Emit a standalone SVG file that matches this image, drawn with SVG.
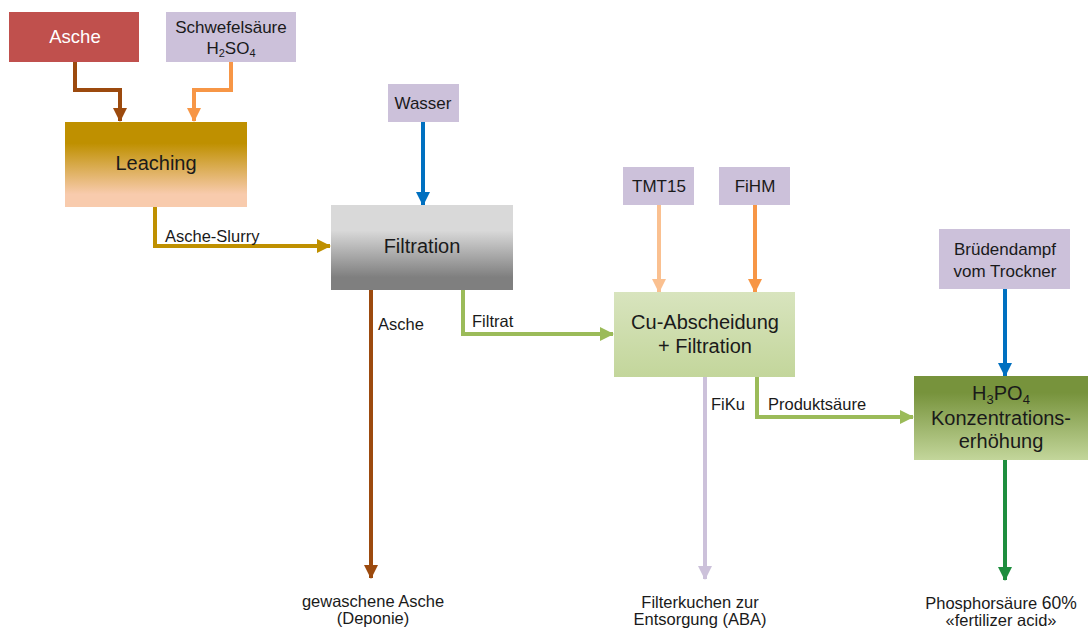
<svg xmlns="http://www.w3.org/2000/svg" width="1089" height="628" viewBox="0 0 1089 628">
<style>
text{font-family:"Liberation Sans",Arial,sans-serif;fill:#1a1a1a;text-anchor:middle}
.big{font-size:20px}
.mid{font-size:17px}
.lbl{font-size:16.5px;text-anchor:start}
.bot{font-size:16.5px}
.c{fill:none;stroke-width:4;stroke-linejoin:miter}
</style>
<defs>
<linearGradient id="gLeach" x1="0" y1="0" x2="0" y2="1"><stop offset="0.25" stop-color="#BF9000"/><stop offset="0.85" stop-color="#F8CBAD"/></linearGradient>
<linearGradient id="gFilt" x1="0" y1="0" x2="0" y2="1"><stop offset="0.3" stop-color="#D9D9D9"/><stop offset="0.85" stop-color="#7F7F7F"/></linearGradient>
<linearGradient id="gCu" x1="0" y1="0" x2="0" y2="1"><stop offset="0" stop-color="#D8E4BE"/><stop offset="1" stop-color="#C3D69B"/></linearGradient>
<linearGradient id="gH3" x1="0" y1="0" x2="0" y2="1"><stop offset="0.2" stop-color="#77933C"/><stop offset="1" stop-color="#C3D69B"/></linearGradient>
<marker id="mBrown" markerUnits="userSpaceOnUse" markerWidth="14" markerHeight="14" refX="13" refY="7" orient="auto"><path d="M0,0 L14,7 L0,14 z" fill="#9C4A0E"/></marker>
<marker id="mOrange" markerUnits="userSpaceOnUse" markerWidth="14" markerHeight="14" refX="13" refY="7" orient="auto"><path d="M0,0 L14,7 L0,14 z" fill="#F79646"/></marker>
<marker id="mLOrange" markerUnits="userSpaceOnUse" markerWidth="14" markerHeight="14" refX="13" refY="7" orient="auto"><path d="M0,0 L14,7 L0,14 z" fill="#FAC090"/></marker>
<marker id="mBlue" markerUnits="userSpaceOnUse" markerWidth="14" markerHeight="14" refX="13" refY="7" orient="auto"><path d="M0,0 L14,7 L0,14 z" fill="#0070C0"/></marker>
<marker id="mGold" markerUnits="userSpaceOnUse" markerWidth="14" markerHeight="14" refX="13" refY="7" orient="auto"><path d="M0,0 L14,7 L0,14 z" fill="#BF9000"/></marker>
<marker id="mGreen" markerUnits="userSpaceOnUse" markerWidth="14" markerHeight="14" refX="13" refY="7" orient="auto"><path d="M0,0 L14,7 L0,14 z" fill="#9BBB59"/></marker>
<marker id="mLilac" markerUnits="userSpaceOnUse" markerWidth="14" markerHeight="14" refX="13" refY="7" orient="auto"><path d="M0,0 L14,7 L0,14 z" fill="#CCC1DA"/></marker>
<marker id="mDGreen" markerUnits="userSpaceOnUse" markerWidth="14" markerHeight="14" refX="13" refY="7" orient="auto"><path d="M0,0 L14,7 L0,14 z" fill="#1E8E3E"/></marker>
</defs>

<g id="connectors">
<path class="c" d="M75,62 V90 H120 V121" stroke="#9C4A0E" marker-end="url(#mBrown)"/>
<path class="c" d="M231,62 V90 H194 V121" stroke="#F79646" marker-end="url(#mOrange)"/>
<path class="c" d="M423,122 V205" stroke="#0070C0" marker-end="url(#mBlue)"/>
<path class="c" d="M155,207 V246 H330" stroke="#BF9000" marker-end="url(#mGold)"/>
<path class="c" d="M371,290 V578" stroke="#9C4A0E" marker-end="url(#mBrown)"/>
<path class="c" d="M463,290 V334 H613" stroke="#9BBB59" marker-end="url(#mGreen)"/>
<path class="c" d="M659,205 V292" stroke="#FAC090" marker-end="url(#mLOrange)"/>
<path class="c" d="M755,205 V292" stroke="#F79646" marker-end="url(#mOrange)"/>
<path class="c" d="M705,377 V579" stroke="#CCC1DA" marker-end="url(#mLilac)"/>
<path class="c" d="M757,377 V417 H913" stroke="#9BBB59" marker-end="url(#mGreen)"/>
<path class="c" d="M1005,289 V376" stroke="#0070C0" marker-end="url(#mBlue)"/>
<path class="c" d="M1005,460 V580" stroke="#1E8E3E" marker-end="url(#mDGreen)"/>
<text class="lbl" x="165" y="242">Asche-Slurry</text>
<text class="lbl" x="378" y="330">Asche</text>
<text class="lbl" x="472" y="327">Filtrat</text>
<text class="lbl" x="711" y="410">FiKu</text>
<text class="lbl" x="768" y="410">Produktsäure</text>
</g>

<g id="asche"><rect x="9" y="12" width="130" height="50" fill="#C0504D"/><text x="75" y="43" class="big" style="fill:#fff;font-size:18.5px">Asche</text></g>
<g id="schwefel"><rect x="166" y="12" width="130" height="50" fill="#CCC1DA"/><text x="231" y="33" class="mid">Schwefelsäure</text><text x="231" y="54" class="mid">H<tspan font-size="11" dy="3">2</tspan><tspan dy="-3">SO</tspan><tspan font-size="11" dy="3">4</tspan></text></g>
<g id="leaching"><rect x="65" y="122" width="182" height="85" fill="url(#gLeach)"/><text x="156" y="170" class="big">Leaching</text></g>
<g id="wasser"><rect x="388" y="84" width="71" height="38" fill="#CCC1DA"/><text x="423" y="109" class="mid">Wasser</text></g>
<g id="filtration"><rect x="331" y="205" width="182" height="85" fill="url(#gFilt)"/><text x="422" y="253" class="big">Filtration</text></g>
<g id="tmt15"><rect x="623" y="167" width="71" height="38" fill="#CCC1DA"/><text x="659" y="192" class="mid">TMT15</text></g>
<g id="fihm"><rect x="719" y="167" width="71" height="38" fill="#CCC1DA"/><text x="755" y="192" class="mid">FiHM</text></g>
<g id="cu"><rect x="614" y="292" width="181" height="85" fill="url(#gCu)"/><text x="705" y="329" class="big">Cu-Abscheidung</text><text x="705" y="353" class="big">+ Filtration</text></g>
<g id="brueden"><rect x="939" y="229" width="131" height="60" fill="#CCC1DA"/><text x="1005" y="255" class="mid">Brüdendampf</text><text x="1005" y="277" class="mid">vom Trockner</text></g>
<g id="h3po4"><rect x="914" y="376" width="174" height="84" fill="url(#gH3)"/><text x="1001" y="400" class="big">H<tspan font-size="13" dy="4">3</tspan><tspan dy="-4">PO</tspan><tspan font-size="13" dy="4">4</tspan></text><text x="1001" y="425" class="big">Konzentrations-</text><text x="1001" y="448" class="big">erhöhung</text></g>
<g id="deponie"><text x="373" y="607" class="bot">gewaschene Asche</text><text x="373" y="624" class="bot">(Deponie)</text></g>
<g id="aba"><text x="700" y="608" class="bot">Filterkuchen zur</text><text x="700" y="625" class="bot">Entsorgung (ABA)</text></g>
<g id="product"><text x="1001" y="609" class="bot">Phosphorsäure <tspan font-size="17.5">60%</tspan></text><text x="1001" y="626" class="bot">«fertilizer acid»</text></g>
</svg>
